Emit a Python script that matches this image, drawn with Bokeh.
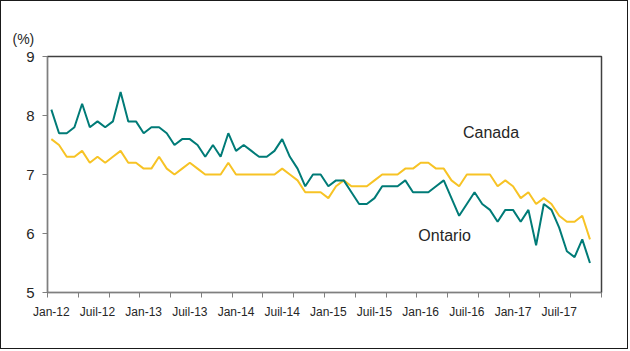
from bokeh.plotting import figure
from bokeh.models import Range1d, FixedTicker, Label, ColumnDataSource, Title
from bokeh.embed import file_html
from bokeh.resources import INLINE

# Monthly values, Jan-12 .. Nov-17 (%)
ontario = [8.1, 7.7, 7.7, 7.8, 8.2, 7.8, 7.9, 7.8, 7.9, 8.4, 7.9, 7.9,
           7.7, 7.8, 7.8, 7.7, 7.5, 7.6, 7.6, 7.5, 7.3, 7.5, 7.3, 7.7,
           7.4, 7.5, 7.4, 7.3, 7.3, 7.4, 7.6, 7.3, 7.1, 6.8, 7.0, 7.0,
           6.8, 6.9, 6.9, 6.7, 6.5, 6.5, 6.6, 6.8, 6.8, 6.8, 6.9, 6.7,
           6.7, 6.7, 6.8, 6.9, 6.6, 6.3, 6.5, 6.7, 6.5, 6.4, 6.2, 6.4,
           6.4, 6.2, 6.4, 5.8, 6.5, 6.4, 6.1, 5.7, 5.6, 5.9, 5.5]
canada = [7.6, 7.5, 7.3, 7.3, 7.4, 7.2, 7.3, 7.2, 7.3, 7.4, 7.2, 7.2,
          7.1, 7.1, 7.3, 7.1, 7.0, 7.1, 7.2, 7.1, 7.0, 7.0, 7.0, 7.2,
          7.0, 7.0, 7.0, 7.0, 7.0, 7.0, 7.1, 7.0, 6.9, 6.7, 6.7, 6.7,
          6.6, 6.8, 6.9, 6.8, 6.8, 6.8, 6.9, 7.0, 7.0, 7.0, 7.1, 7.1,
          7.2, 7.2, 7.1, 7.1, 6.9, 6.8, 7.0, 7.0, 7.0, 7.0, 6.8, 6.9,
          6.8, 6.6, 6.7, 6.5, 6.6, 6.5, 6.3, 6.2, 6.2, 6.3, 5.9]
tick_labels = ["Jan-12", "Juil-12", "Jan-13", "Juil-13", "Jan-14", "Juil-14",
               "Jan-15", "Juil-15", "Jan-16", "Juil-16", "Jan-17", "Juil-17"]
n_categories = 72
label_step = 6
tick_step = 4

FONT = "Liberation Sans"
TXT = "#262626"

xs = [i + 0.5 for i in range(len(ontario))]
src = ColumnDataSource(dict(x=xs, ontario=ontario, canada=canada))

p = figure(width=628, height=349, output_backend="svg", toolbar_location=None,
           x_range=Range1d(0, n_categories), y_range=Range1d(5, 9),
           min_border_left=46, min_border_right=28, min_border_top=55, min_border_bottom=58,
           background_fill_color="white", border_fill_color="white")
p.styles = {"border": "1px solid #1a1a1a"}
p.grid.visible = False
p.outline_line_color = "#404040"
p.outline_line_width = 1.5

p.line("x", "canada", source=src, line_color="#F7C325", line_width=2)
p.line("x", "ontario", source=src, line_color="#007B77", line_width=2)

lab_pos = [i * label_step + 0.5 for i in range(len(tick_labels))]
xa = p.xaxis[0]
xa.ticker = FixedTicker(ticks=lab_pos, minor_ticks=list(range(0, n_categories + 1, tick_step)))
xa.major_label_overrides = {pos: lab for pos, lab in zip(lab_pos, tick_labels)}
xa.major_tick_out = 0
xa.major_tick_in = 0
xa.minor_tick_out = 5
xa.minor_tick_in = 0
xa.minor_tick_line_color = "#7f7f7f"
xa.axis_line_color = "#7f7f7f"
xa.major_label_standoff = 7
xa.major_label_text_font = FONT
xa.major_label_text_font_size = "12px"
xa.major_label_text_color = TXT

ya = p.yaxis[0]
ya.ticker = FixedTicker(ticks=[5, 6, 7, 8, 9])
ya.minor_tick_line_color = None
ya.major_tick_out = 5
ya.major_tick_in = 0
ya.major_tick_line_color = "#7f7f7f"
ya.axis_line_color = "#7f7f7f"
ya.major_label_standoff = 8
ya.major_label_text_font = FONT
ya.major_label_text_font_size = "15px"
ya.major_label_text_color = TXT

p.add_layout(Label(x=54.0, y=7.565, text="Canada", text_font=FONT,
                   text_font_size="16px", text_color=TXT))
p.add_layout(Label(x=48.2, y=5.83, text="Ontario", text_font=FONT,
                   text_font_size="16px", text_color=TXT))
p.add_layout(Title(text="(%)", align="left", offset=-35, standoff=19,
                   text_font=FONT, text_font_size="14px", text_font_style="normal",
                   text_color=TXT), "above")

open("out.html", "w").write(file_html(p, INLINE))
